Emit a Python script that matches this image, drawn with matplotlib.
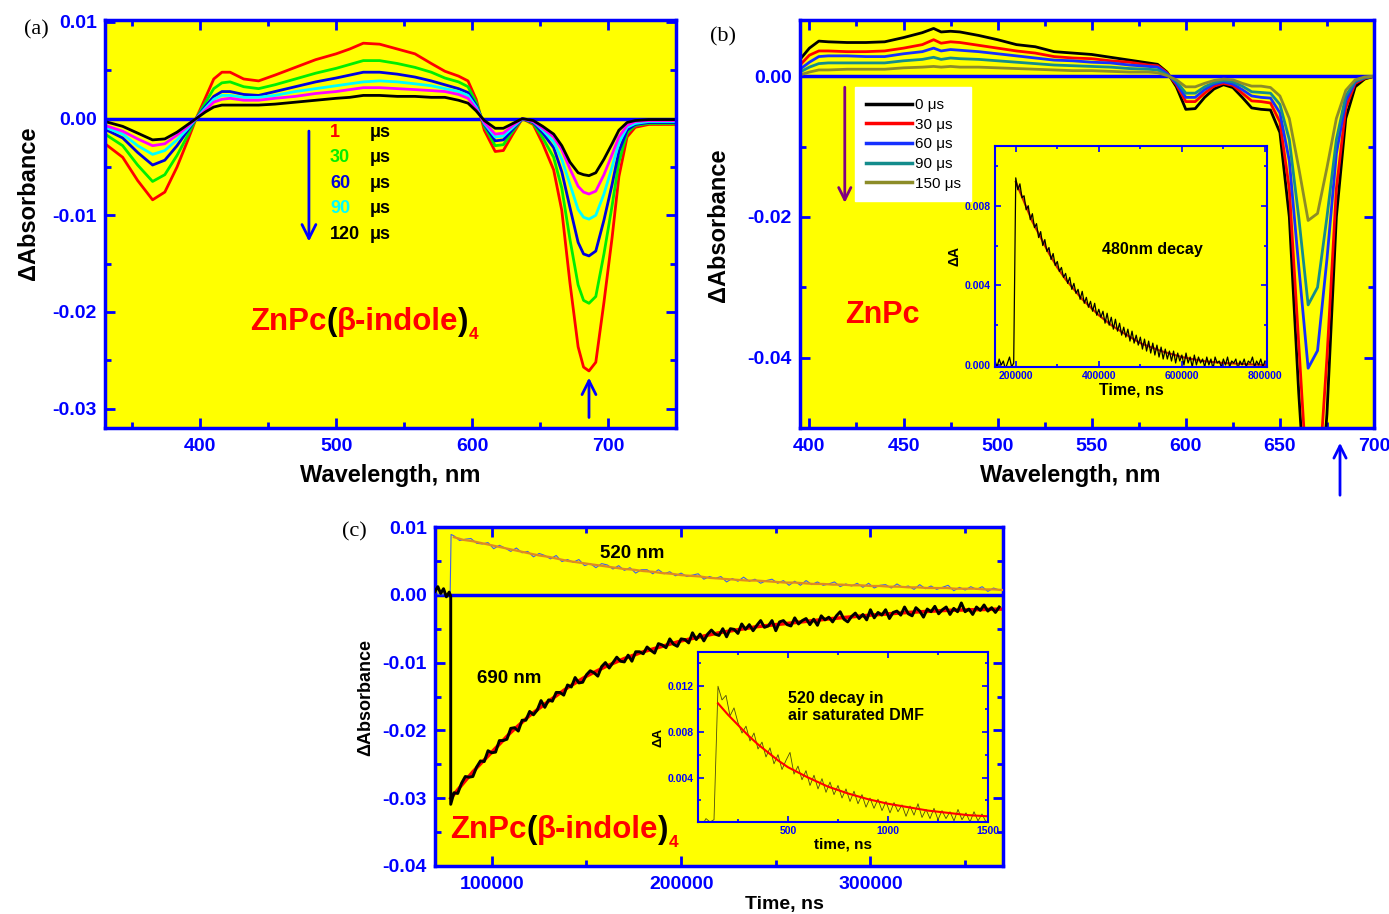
import numpy as np
import matplotlib
matplotlib.use('Agg')
import matplotlib.pyplot as plt
from matplotlib import transforms
from matplotlib.patches import FancyArrowPatch
from matplotlib.ticker import MultipleLocator, FormatStrFormatter

plt.rcParams['font.family'] = ['Liberation Sans', 'DejaVu Sans']
plt.rcParams['font.weight'] = 'bold'
plt.rcParams['axes.labelweight'] = 'bold'
plt.rcParams['axes.unicode_minus'] = False

YEL = '#FFFF00'
BLU = '#0000FF'

# ---- panel (a): ZnPc(b-indole)4 transient spectra ----
wl_a = [330, 343, 354, 365, 374, 383, 391, 397, 404, 410, 416, 422, 432, 443, 455, 470, 485, 500, 510, 520,
        532, 545, 558, 570, 580, 590, 597, 603, 609, 617, 623, 630, 637, 645, 652, 660, 666, 672, 678, 682,
        686, 691, 697, 703, 708, 714, 720, 730, 750]
a_1us = [-0.0026, -0.0040, -0.0064, -0.0084, -0.0076, -0.0050, -0.0022, 0.0000, 0.0022, 0.0041,
         0.0048, 0.0048, 0.0041, 0.0039, 0.0045, 0.0053, 0.0061, 0.0067, 0.0072, 0.0078,
         0.0077, 0.0072, 0.0067, 0.0057, 0.0049, 0.0044, 0.0039, 0.0020, -0.0012, -0.0034,
         -0.0033, -0.0016, 0.0000, -0.0006, -0.0026, -0.0053, -0.0095, -0.0170, -0.0236, -0.0257,
         -0.0261, -0.0252, -0.0190, -0.0123, -0.0060, -0.0019, -0.0009, -0.0006, -0.0006]
a_30us = [-0.0016, -0.0028, -0.0048, -0.0065, -0.0058, -0.0038, -0.0017, 0.0000, 0.0017, 0.0031,
          0.0037, 0.0038, 0.0033, 0.0031, 0.0035, 0.0041, 0.0047, 0.0052, 0.0056, 0.0060,
          0.0060, 0.0057, 0.0053, 0.0048, 0.0042, 0.0038, 0.0033, 0.0017, -0.0008, -0.0028,
          -0.0027, -0.0013, 0.0000, -0.0005, -0.0020, -0.0040, -0.0072, -0.0125, -0.0172, -0.0188,
          -0.0191, -0.0184, -0.0140, -0.0090, -0.0045, -0.0015, -0.0007, -0.0005, -0.0005]
a_60us = [-0.0011, -0.0020, -0.0035, -0.0048, -0.0043, -0.0028, -0.0012, 0.0000, 0.0013, 0.0023,
          0.0028, 0.0028, 0.0025, 0.0024, 0.0028, 0.0033, 0.0038, 0.0042, 0.0045, 0.0048,
          0.0048, 0.0046, 0.0043, 0.0039, 0.0035, 0.0031, 0.0027, 0.0014, -0.0006, -0.0023,
          -0.0022, -0.0011, 0.0000, -0.0004, -0.0015, -0.0030, -0.0055, -0.0092, -0.0128, -0.0140,
          -0.0142, -0.0137, -0.0105, -0.0068, -0.0034, -0.0012, -0.0006, -0.0004, -0.0004]
a_90us = [-0.0009, -0.0016, -0.0028, -0.0037, -0.0033, -0.0022, -0.0010, 0.0000, 0.0011, 0.0020,
          0.0024, 0.0024, 0.0022, 0.0022, 0.0024, 0.0028, 0.0031, 0.0034, 0.0036, 0.0038,
          0.0039, 0.0038, 0.0036, 0.0034, 0.0031, 0.0028, 0.0024, 0.0012, -0.0005, -0.0019,
          -0.0018, -0.0009, 0.0000, -0.0003, -0.0012, -0.0024, -0.0042, -0.0068, -0.0094, -0.0102,
          -0.0104, -0.0100, -0.0078, -0.0050, -0.0025, -0.0009, -0.0005, -0.0003, -0.0003]
a_105us = [-0.0007, -0.0013, -0.0021, -0.0028, -0.0026, -0.0017, -0.0008, 0.0000, 0.0009, 0.0017,
           0.0020, 0.0021, 0.0019, 0.0019, 0.0021, 0.0023, 0.0026, 0.0028, 0.0030, 0.0032,
           0.0032, 0.0031, 0.0030, 0.0029, 0.0028, 0.0025, 0.0021, 0.0010, -0.0004, -0.0016,
           -0.0015, -0.0007, 0.0000, -0.0003, -0.0010, -0.0019, -0.0032, -0.0052, -0.0070, -0.0076,
           -0.0078, -0.0075, -0.0058, -0.0037, -0.0019, -0.0007, -0.0003, -0.0002, -0.0002]
a_120us = [-0.0003, -0.0008, -0.0015, -0.0022, -0.0021, -0.0014, -0.0006, 0.0000, 0.0007, 0.0012,
           0.0014, 0.0014, 0.0014, 0.0014, 0.0015, 0.0017, 0.0019, 0.0021, 0.0022, 0.0024,
           0.0024, 0.0023, 0.0023, 0.0022, 0.0022, 0.0019, 0.0016, 0.0008, -0.0002, -0.0010,
           -0.0010, -0.0005, 0.0000, -0.0002, -0.0008, -0.0016, -0.0028, -0.0045, -0.0056, -0.0058,
           -0.0059, -0.0056, -0.0042, -0.0026, -0.0012, -0.0004, -0.0002, -0.0001, -0.0001]
a_labels = ['1', '30', '60', '90', '120']
a_label_colors = ['#FF0000', '#00EE00', '#0000DD', '#00FFFF', '#000000']

# ---- panel (b): ZnPc transient spectra ----
wl_b = [395, 400, 405, 410, 420, 430, 440, 450, 460, 466, 470, 475, 480, 490, 500, 510, 520, 530, 540, 550,
        560, 570, 580, 585, 590, 595, 600, 605, 610, 615, 620, 625, 630, 635, 640, 645, 650, 655, 660, 665,
        670, 675, 680, 685, 690, 695, 700]
b_0 = [0.0024, 0.0040, 0.0050, 0.0049, 0.0048, 0.0048, 0.0049, 0.0055, 0.0062, 0.0068,
       0.0063, 0.0064, 0.0063, 0.0058, 0.0052, 0.0045, 0.0042, 0.0035, 0.0033, 0.0031,
       0.0027, 0.0023, 0.0019, 0.0017, 0.0006, -0.0015, -0.0047, -0.0046, -0.0030, -0.0018,
       -0.0012, -0.0016, -0.0030, -0.0045, -0.0047, -0.0048, -0.0080, -0.0200, -0.0450, -0.0660,
       -0.0660, -0.0480, -0.0200, -0.0060, -0.0015, -0.0004, 0.0000]
b_30 = [0.0016, 0.0030, 0.0036, 0.0036, 0.0035, 0.0035, 0.0036, 0.0040, 0.0045, 0.0052,
        0.0047, 0.0049, 0.0048, 0.0044, 0.0040, 0.0036, 0.0033, 0.0028, 0.0026, 0.0025,
        0.0022, 0.0020, 0.0016, 0.0015, 0.0005, -0.0012, -0.0036, -0.0036, -0.0024, -0.0014,
        -0.0010, -0.0013, -0.0024, -0.0035, -0.0036, -0.0038, -0.0065, -0.0160, -0.0380, -0.0600,
        -0.0600, -0.0400, -0.0160, -0.0045, -0.0010, -0.0003, 0.0000]
b_60 = [0.0010, 0.0020, 0.0028, 0.0029, 0.0029, 0.0028, 0.0028, 0.0032, 0.0035, 0.0040,
        0.0036, 0.0038, 0.0037, 0.0035, 0.0032, 0.0029, 0.0026, 0.0023, 0.0022, 0.0020,
        0.0019, 0.0016, 0.0014, 0.0013, 0.0004, -0.0010, -0.0030, -0.0030, -0.0019, -0.0011,
        -0.0008, -0.0011, -0.0019, -0.0028, -0.0030, -0.0031, -0.0052, -0.0120, -0.0270, -0.0415,
        -0.0390, -0.0260, -0.0110, -0.0035, -0.0008, -0.0002, 0.0000]
b_90 = [0.0006, 0.0013, 0.0018, 0.0019, 0.0019, 0.0019, 0.0019, 0.0022, 0.0024, 0.0027,
        0.0024, 0.0026, 0.0025, 0.0024, 0.0022, 0.0020, 0.0018, 0.0016, 0.0015, 0.0014,
        0.0013, 0.0011, 0.0010, 0.0009, 0.0002, -0.0007, -0.0024, -0.0024, -0.0015, -0.0009,
        -0.0006, -0.0008, -0.0014, -0.0022, -0.0023, -0.0024, -0.0040, -0.0090, -0.0200, -0.0325,
        -0.0300, -0.0200, -0.0090, -0.0028, -0.0007, -0.0002, 0.0000]
b_150 = [0.0002, 0.0006, 0.0009, 0.0009, 0.0010, 0.0010, 0.0010, 0.0012, 0.0013, 0.0014,
         0.0013, 0.0014, 0.0013, 0.0013, 0.0012, 0.0011, 0.0010, 0.0009, 0.0008, 0.0008,
         0.0007, 0.0006, 0.0006, 0.0005, 0.0001, -0.0005, -0.0015, -0.0015, -0.0010, -0.0006,
         -0.0004, -0.0005, -0.0010, -0.0014, -0.0014, -0.0016, -0.0028, -0.0060, -0.0130, -0.0205,
         -0.0195, -0.0130, -0.0060, -0.0020, -0.0005, -0.0001, 0.0000]
b_labels = ['0 μs', '30 μs', '60 μs', '90 μs', '150 μs']
b_colors = ['#000000', '#FF0000', '#1530FF', '#148C8C', '#8C8C28']

# inset (b): 480 nm decay, values in units of 1e-4
t_b = np.arange(150000, 800001, 5000)
dA_b = np.array([2, -1, 3, 0, 2, -2, 1, 4, -1, 1,
                 94, 88, 91, 84, 85, 78, 80, 73, 76, 69,
                 71, 64, 67, 60, 63, 57, 59, 53, 56, 50,
                 52, 47, 49, 44, 46, 41, 44, 38, 41, 36,
                 38, 33, 37, 31, 34, 29, 32, 27, 31, 25,
                 28, 24, 27, 21, 26, 20, 24, 18, 23, 17,
                 21, 15, 19, 14, 18, 12, 17, 11, 15, 10,
                 14, 8, 13, 7, 12, 6, 11, 5, 10, 4,
                 9, 3, 8, 3, 7, 2, 7, 1, 6, 2,
                 5, 0, 6, 1, 4, -1, 5, 0, 4, 1,
                 3, -1, 4, 0, 3, -2, 4, 1, 2, -1,
                 3, 0, 4, -1, 2, 1, 3, -2, 2, 0,
                 3, -1, 2, 1, 4, -1, 2, 0, 3, -1,
                 2]) * 1e-4
fit_b_t = [200000, 220000, 240000, 260000, 280000, 300000, 320000, 340000, 360000, 380000,
           400000, 430000, 460000, 500000, 550000, 600000, 650000, 700000, 800000]
fit_b = [0.0092, 0.0082, 0.0072, 0.0064, 0.0056, 0.0049, 0.0043, 0.0038, 0.0033, 0.0029,
         0.0025, 0.0020, 0.0016, 0.0011, 0.0007, 0.0004, 0.0002, 0.0001, 0.0000]

# ---- panel (c): kinetic traces, trace values in units of 1e-4 ----
t690_pre = [70000, 71500, 73000, 74500, 76000, 77500, 78300, 78300]
v690_pre = [5, 12, 2, 9, -3, 4, -2, -309]
t690 = np.arange(80000, 368001, 2000)
v690 = [-292, -293, -278, -268, -269, -268, -254, -245, -246, -230,
        -233, -232, -215, -215, -213, -197, -196, -201, -185, -185,
        -172, -177, -170, -156, -166, -155, -157, -144, -144, -148,
        -133, -136, -122, -130, -129, -118, -112, -115, -120, -106,
        -100, -108, -100, -92, -98, -99, -89, -98, -84, -84,
        -87, -77, -82, -86, -72, -74, -78, -65, -73, -76,
        -65, -66, -71, -56, -66, -58, -68, -58, -52, -58,
        -60, -50, -62, -50, -51, -57, -43, -51, -44, -53,
        -45, -38, -48, -46, -38, -53, -40, -38, -44, -46,
        -34, -43, -38, -35, -44, -36, -45, -31, -37, -33,
        -40, -31, -25, -36, -40, -32, -27, -35, -29, -37,
        -22, -34, -26, -30, -22, -35, -26, -24, -30, -18,
        -28, -31, -19, -24, -33, -21, -25, -17, -28, -22,
        -18, -29, -20, -25, -12, -25, -21, -29, -18, -23,
        -15, -24, -19, -26, -18]
fit690_t = [78300, 90000, 100000, 110000, 120000, 130000, 140000, 150000, 160000, 170000, 180000,
            190000, 200000, 220000, 240000, 260000, 280000, 300000, 320000, 340000, 370000]
fit690 = [-0.0300, -0.0261, -0.0232, -0.0203, -0.0178, -0.0157, -0.0137, -0.0120, -0.0106, -0.0094, -0.0084,
          -0.0076, -0.0068, -0.0056, -0.0047, -0.0041, -0.0035, -0.0030, -0.0026, -0.0023, -0.0021]
t520_pre = [70000, 74000, 78000, 78500]
v520_pre = [1, 0, 1, 89]
t520 = np.arange(80000, 368001, 3000)
v520 = [87, 80, 82, 83, 76, 75, 77, 68, 73, 69,
        64, 69, 62, 64, 56, 61, 58, 53, 58, 49,
        52, 48, 52, 43, 46, 40, 46, 44, 38, 43,
        36, 40, 32, 37, 37, 31, 37, 31, 34, 28,
        32, 27, 29, 31, 23, 27, 24, 27, 19, 24,
        20, 26, 20, 23, 17, 21, 23, 17, 21, 14,
        20, 14, 21, 15, 19, 14, 16, 19, 12, 16,
        13, 17, 11, 17, 10, 14, 15, 10, 16, 11,
        13, 8, 15, 9, 13, 8, 11, 14, 6, 11,
        7, 12, 8, 12, 5, 10, 7]
fit520_t = np.arange(80000, 370001, 5000)
fit520 = [0.0085, 0.0081, 0.0079, 0.0076, 0.0073, 0.0070, 0.0067, 0.0064, 0.0061, 0.0058,
          0.0056, 0.0053, 0.0050, 0.0048, 0.0046, 0.0044, 0.0042, 0.0040, 0.0038, 0.0037,
          0.0035, 0.0034, 0.0032, 0.0031, 0.0029, 0.0028, 0.0027, 0.0025, 0.0024, 0.0023,
          0.0022, 0.0021, 0.0021, 0.0020, 0.0019, 0.0018, 0.0018, 0.0017, 0.0016, 0.0016,
          0.0015, 0.0015, 0.0014, 0.0014, 0.0013, 0.0013, 0.0012, 0.0012, 0.0011, 0.0011,
          0.0010, 0.0010, 0.0010, 0.0009, 0.0009, 0.0009, 0.0008, 0.0008, 0.0007]

# inset (c): 520 decay in air saturated DMF
t_c = np.arange(50, 1500, 20)
dA_c = [0.0003, -0.0002, 0.0004, 0.0001, 0.0003, 0.0120, 0.0108, 0.0112, 0.0094, 0.0101,
        0.0088, 0.0079, 0.0085, 0.0072, 0.0079, 0.0065, 0.0071, 0.0058, 0.0066, 0.0052,
        0.0060, 0.0047, 0.0055, 0.0062, 0.0043, 0.0050, 0.0038, 0.0046, 0.0033, 0.0042,
        0.0030, 0.0039, 0.0027, 0.0036, 0.0025, 0.0033, 0.0022, 0.0030, 0.0019, 0.0028,
        0.0017, 0.0025, 0.0014, 0.0022, 0.0013, 0.0021, 0.0011, 0.0019, 0.0009, 0.0018,
        0.0010, 0.0016, 0.0006, 0.0015, 0.0007, 0.0017, 0.0005, 0.0012, 0.0004, 0.0013,
        0.0003, 0.0011, 0.0004, 0.0010, 0.0002, 0.0012, 0.0003, 0.0009, 0.0001, 0.0010,
        0.0002, 0.0008, 0.0001]
fit_c_t = [150, 200, 250, 300, 350, 400, 450, 500, 600, 700, 800, 900, 1000, 1100, 1200, 1300, 1400, 1500]
fit_c = [0.0105, 0.0095, 0.0086, 0.0077, 0.0069, 0.0062, 0.0055, 0.0049, 0.0040, 0.0032,
         0.0026, 0.0021, 0.0017, 0.0014, 0.0011, 0.0009, 0.0007, 0.0006]


def style(ax, lw=2.5, size=14, major=7, minor=4, xpad=7, ypad=6):
    ax.set_facecolor(YEL)
    for s in ax.spines.values():
        s.set_color(BLU)
        s.set_linewidth(lw)
    ax.tick_params(which='both', direction='in', top=True, right=True, color=BLU,
                   labelcolor=BLU, width=lw * 0.8, labelsize=size)
    ax.tick_params(which='major', length=major)
    ax.tick_params(which='minor', length=minor)
    ax.tick_params(axis='x', which='both', pad=xpad)
    ax.tick_params(axis='y', which='both', pad=ypad)


def mixed_text(ax, x, y, parts, size):
    # pieces of text in different colours, drawn one after the other
    fig = ax.figure
    r = fig.canvas.get_renderer()
    tr = ax.transAxes
    for s, c, sub in parts:
        if sub:
            t = ax.text(x, y, s, color=c, fontsize=size * 0.55,
                        transform=transforms.offset_copy(tr, fig=fig, y=-size * 0.3, units='points'))
        else:
            t = ax.text(x, y, s, color=c, fontsize=size, transform=tr)
        w = t.get_window_extent(renderer=r).width
        tr = transforms.offset_copy(tr, fig=fig, x=w, units='dots')


fig = plt.figure(figsize=(13.89, 9.14), dpi=100)
W, H = 1389, 914


def px_axes(l, t, r, b):
    return fig.add_axes([l / W, 1 - b / H, (r - l) / W, (b - t) / H])


indole_parts = [('ZnPc', 'red', False), ('(', 'black', False), ('β-indole', 'red', False),
                (')', 'black', False), ('4', 'red', True)]

# ---------------- (a) ----------------
ax1 = px_axes(105, 20, 676, 428)
style(ax1)
ax1.axhline(0, color=BLU, lw=2.5, zorder=1)
for y, c in zip([a_1us, a_30us, a_60us, a_90us, a_105us, a_120us],
                ['#FF0000', '#00EE00', '#0000DD', '#00FFFF', '#FF00FF', '#000000']):
    ax1.plot(wl_a, y, color=c, lw=2, zorder=2)
ax1.set_xlim(330, 750)
ax1.set_ylim(-0.032, 0.0102)
ax1.xaxis.set_major_locator(MultipleLocator(100))
ax1.xaxis.set_minor_locator(MultipleLocator(50))
ax1.yaxis.set_major_locator(MultipleLocator(0.01))
ax1.yaxis.set_minor_locator(MultipleLocator(0.005))
ax1.yaxis.set_major_formatter(FormatStrFormatter('%.2f'))
ax1.set_xlabel('Wavelength, nm', fontsize=17)
ax1.set_ylabel('ΔAbsorbance', fontsize=17)
ax1.xaxis.set_label_coords(0.5, -0.088)
ax1.yaxis.set_label_coords(-0.113, 0.55)
for i, (lab, c) in enumerate(zip(a_labels, a_label_colors)):
    yy = 0.725 - i * 0.0625
    ax1.text(0.394, yy, lab, color=c, fontsize=13, transform=ax1.transAxes, va='center')
    ax1.text(0.464, yy, 'μs', color='black', fontsize=13, transform=ax1.transAxes, va='center')
ax1.annotate('', xy=(480, -0.0130), xytext=(480, -0.0010),
             arrowprops=dict(arrowstyle='->', color=BLU, lw=2, mutation_scale=25))
ax1.annotate('', xy=(686, -0.0265), xytext=(686, -0.0312),
             arrowprops=dict(arrowstyle='->', color=BLU, lw=2, mutation_scale=25))
mixed_text(ax1, 0.254, 0.240, indole_parts, 22.5)
fig.text(24 / W, 1 - 30 / H, '(a)', fontsize=16, fontweight='normal', family='Liberation Serif', va='center')

# ---------------- (b) ----------------
ax2 = px_axes(800, 20, 1374, 428)
style(ax2)
ax2.axhline(0, color=BLU, lw=2.5, zorder=1)
for y, c, lab in zip([b_0, b_30, b_60, b_90, b_150], b_colors, b_labels):
    ax2.plot(wl_b, y, color=c, lw=2, label=lab, zorder=2)
ax2.set_xlim(395, 700)
ax2.set_ylim(-0.05, 0.008)
ax2.xaxis.set_major_locator(MultipleLocator(50))
ax2.xaxis.set_minor_locator(MultipleLocator(25))
ax2.yaxis.set_major_locator(MultipleLocator(0.02))
ax2.yaxis.set_minor_locator(MultipleLocator(0.01))
ax2.yaxis.set_major_formatter(FormatStrFormatter('%.2f'))
ax2.set_xlabel('Wavelength, nm', fontsize=17)
ax2.set_ylabel('ΔAbsorbance', fontsize=17)
ax2.xaxis.set_label_coords(0.47, -0.088)
ax2.yaxis.set_label_coords(-0.122, 0.497)
leg = ax2.legend(loc='upper left', bbox_to_anchor=(0.096, 0.835), frameon=True, facecolor='white',
                 edgecolor='white', framealpha=1, fancybox=False, prop={'size': 11, 'weight': 'normal'},
                 handlelength=3.0, labelspacing=0.37, borderpad=0.7, handletextpad=0.2, borderaxespad=0)
for h in leg.get_lines():
    h.set_linewidth(2.5)
ax2.annotate('', xy=(0.078, 0.545), xytext=(0.078, 0.842), xycoords='axes fraction',
             arrowprops=dict(arrowstyle='->', color='#800080', lw=2, mutation_scale=22))
ax2.text(0.078, 0.257, 'ZnPc', color='red', fontsize=22, transform=ax2.transAxes)
fig.add_artist(FancyArrowPatch((1340 / W, 1 - 498 / H), (1340 / W, 1 - 440 / H),
                               transform=fig.transFigure, arrowstyle='->',
                               color=BLU, lw=2, mutation_scale=22))
fig.text(710 / W, 1 - 37 / H, '(b)', fontsize=16, fontweight='normal', family='Liberation Serif', va='center')

# inset (b)
ax2i = px_axes(995, 146, 1267, 367)
style(ax2i, lw=1.5, size=7.5, major=4, minor=2, xpad=3, ypad=3)
ax2i.plot(fit_b_t, fit_b, color='#CC2200', lw=1.5)
ax2i.plot(t_b, dA_b, color='black', lw=0.9)
ax2i.set_xlim(150000, 805000)
ax2i.set_ylim(-0.0001, 0.011)
ax2i.xaxis.set_major_locator(MultipleLocator(200000))
ax2i.xaxis.set_minor_locator(MultipleLocator(100000))
ax2i.yaxis.set_major_locator(MultipleLocator(0.004))
ax2i.yaxis.set_minor_locator(MultipleLocator(0.002))
ax2i.yaxis.set_major_formatter(FormatStrFormatter('%.3f'))
ax2i.set_xlabel('Time, ns', fontsize=11.5, labelpad=1)
ax2i.set_ylabel('ΔA', fontsize=10, labelpad=2)
ax2i.text(0.58, 0.53, '480nm decay', fontsize=11.5, ha='center', va='center', transform=ax2i.transAxes)

# ---------------- (c) ----------------
ax3 = px_axes(435, 527, 1003, 866)
style(ax3)
ax3.axhline(0, color=BLU, lw=2.5, zorder=1)
ax3.plot(t520_pre + list(t520), (np.array(v520_pre + v520) * 1e-4), color='#4060E8', lw=0.8, zorder=2)
ax3.plot(fit520_t, fit520, color='#E08A20', lw=1.6, zorder=3)
ax3.plot(fit690_t, fit690, color='red', lw=2.5, zorder=2)
ax3.plot(t690_pre + list(t690), np.array(v690_pre + v690) * 1e-4, color='black', lw=2.1, zorder=3)
ax3.set_xlim(70000, 370000)
ax3.set_ylim(-0.04, 0.01)
ax3.xaxis.set_major_locator(MultipleLocator(100000))
ax3.xaxis.set_minor_locator(MultipleLocator(50000))
ax3.yaxis.set_major_locator(MultipleLocator(0.01))
ax3.yaxis.set_minor_locator(MultipleLocator(0.005))
ax3.yaxis.set_major_formatter(FormatStrFormatter('%.2f'))
ax3.set_xlabel('Time, ns', fontsize=14)
ax3.set_ylabel('ΔAbsorbance', fontsize=13)
ax3.xaxis.set_label_coords(0.616, -0.088)
ax3.yaxis.set_label_coords(-0.107, 0.4985)
ax3.text(0.29, 0.923, '520 nm', fontsize=13.5, va='center', transform=ax3.transAxes)
ax3.text(0.074, 0.552, '690 nm', fontsize=13.5, va='center', transform=ax3.transAxes)
mixed_text(ax3, 0.026, 0.083, indole_parts, 22.5)
fig.text(342 / W, 1 - 532 / H, '(c)', fontsize=16, fontweight='normal', family='Liberation Serif', va='center')

# inset (c)
ax3i = px_axes(698, 652, 988, 822)
style(ax3i, lw=1.5, size=7.5, major=4, minor=2, xpad=3, ypad=3)
ax3i.plot(t_c, dA_c, color='#4A4A10', lw=0.6)
ax3i.plot(fit_c_t, fit_c, color='red', lw=1.5)
ax3i.set_xlim(50, 1500)
ax3i.set_ylim(0.0001, 0.015)
ax3i.xaxis.set_major_locator(MultipleLocator(500))
ax3i.xaxis.set_minor_locator(MultipleLocator(250))
ax3i.yaxis.set_major_locator(MultipleLocator(0.004))
ax3i.yaxis.set_minor_locator(MultipleLocator(0.002))
ax3i.yaxis.set_major_formatter(FormatStrFormatter('%.3f'))
ax3i.set_xlabel('time, ns', fontsize=11, labelpad=1)
ax3i.set_ylabel('ΔA', fontsize=9.5, labelpad=2)
ax3i.text(0.31, 0.77, '520 decay in\nair saturated DMF', fontsize=11.5, va='top',
          linespacing=1.15, transform=ax3i.transAxes)

fig.savefig('out.png', dpi=100)
